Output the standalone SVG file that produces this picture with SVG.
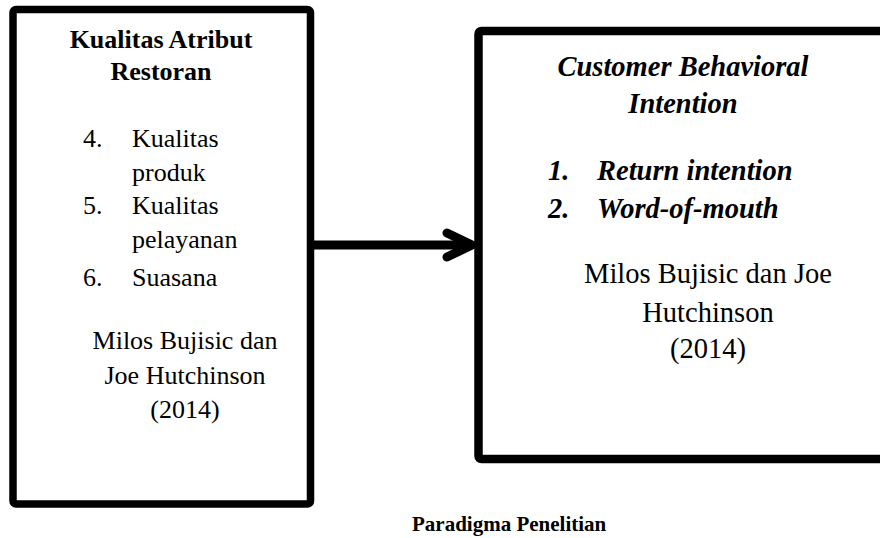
<svg xmlns="http://www.w3.org/2000/svg" width="880" height="538" viewBox="0 0 880 538">
<style>
text{font-family:"Liberation Serif","Times New Roman",serif;fill:#000}
.b{font-weight:bold}
.bi{font-weight:bold;font-style:italic}
.box{fill:#fff;stroke:#000;stroke-linejoin:round}
.c{text-anchor:middle}
</style>
<rect width="880" height="538" fill="#fff"/>
<g id="node-kualitas">
<rect class="box" x="13" y="9.5" width="297.5" height="494.5" rx="3" stroke-width="7.5"/>
<text class="b c" x="161" y="48" font-size="26">Kualitas Atribut</text>
<text class="b c" x="161" y="80" font-size="26">Restoran</text>
<text x="83" y="147" font-size="26">4.</text>
<text x="132" y="147" font-size="26">Kualitas</text>
<text x="132" y="181" font-size="26">produk</text>
<text x="83" y="214" font-size="26">5.</text>
<text x="132" y="214" font-size="26">Kualitas</text>
<text x="132" y="248" font-size="26">pelayanan</text>
<text x="83" y="286" font-size="26">6.</text>
<text x="132" y="286" font-size="26">Suasana</text>
<text class="c" x="185" y="349" font-size="26">Milos Bujisic dan</text>
<text class="c" x="185" y="384" font-size="26">Joe Hutchinson</text>
<text class="c" x="185" y="418" font-size="26">(2014)</text>
</g>
<g id="node-cbi">
<rect class="box" x="478.5" y="31" width="420" height="428" rx="3" stroke-width="8.5"/>
<text class="bi c" x="683" y="76" font-size="28.5">Customer Behavioral</text>
<text class="bi c" x="683" y="113" font-size="28.5">Intention</text>
<text class="bi" x="548" y="180" font-size="28.5">1.</text>
<text class="bi" x="597" y="180" font-size="28.5">Return intention</text>
<text class="bi" x="548" y="218" font-size="28.5">2.</text>
<text class="bi" x="597" y="218" font-size="28.5">Word-of-mouth</text>
<text class="c" x="708" y="283" font-size="28.5">Milos Bujisic dan Joe</text>
<text class="c" x="708" y="322" font-size="28.5">Hutchinson</text>
<text class="c" x="708" y="358" font-size="28.5">(2014)</text>
</g>
<g id="connectors" fill="none" stroke="#000" stroke-width="9" stroke-linecap="round" stroke-linejoin="round">
<line x1="314" y1="245" x2="472" y2="245" stroke-linecap="butt"/>
<polyline points="447,233 472,245 447,257"/>
</g>
<g id="caption">
<text class="b" x="412" y="531" font-size="21">Paradigma Penelitian</text>
</g>
</svg>
